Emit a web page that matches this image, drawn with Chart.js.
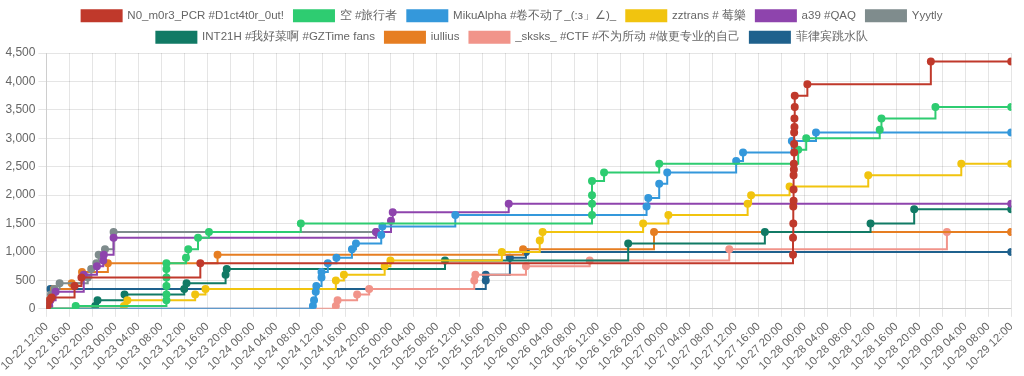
<!DOCTYPE html>
<html>
<head>
<meta charset="utf-8">
<script src="https://cdn.jsdelivr.net/npm/chart.js@4.4.0/dist/chart.umd.min.js"></script>
<style>
  body { margin: 0; background: #fff; }
  #wrap { width: 1024px; height: 376px; }
</style>
</head>
<body>
<div id="wrap"><canvas id="graph"></canvas></div>
<script>
// équipes + couleurs
const teamNames = [
  'N0_m0r3_PCR #D1ct4t0r_0ut!',
  '空 #旅行者',
  'MikuAlpha #卷不动了_(:з」∠)_',
  'zztrans # 莓樂',
  'a39 #QAQ',
  'Yyytly',
  'INT21H #我好菜啊 #GZTime fans',
  'iullius',
  '_sksks_ #CTF #不为所动 #做更专业的自己',
  '菲律宾跳水队'
];
const teamColors = ['#c0392b', '#2ecc71', '#3498db', '#f1c40f', '#8e44ad', '#7f8c8d', '#117a65', '#e67e22', '#f1948a', '#1f618d'];

// heures depuis le 10-22 12:00 / scores
const redHours = [0, 0.2, 0.5, 0.9, 4.9, 6.1, 26.8, 130.0, 130.0, 130.05, 130.05, 130.1, 130.1, 130.1, 130.15, 130.15, 130.2, 130.2, 130.2, 130.25, 130.25, 130.3, 130.3, 132.5, 154.0, 168];
const redScores = [0, 50, 150, 200, 400, 550, 800, 950, 1250, 1500, 1800, 1900, 2100, 2350, 2450, 2550, 2750, 2900, 3100, 3200, 3350, 3550, 3750, 3950, 4350, 4350];

const greenHours = [0, 5.1, 20.9, 20.9, 20.9, 20.9, 20.9, 20.9, 24.3, 24.7, 26.4, 28.3, 44.3, 95.0, 95.0, 95.0, 95.0, 97.1, 106.7, 130.9, 132.3, 145.1, 145.4, 154.8, 168];
const greenScores = [0, 50, 150, 250, 400, 550, 700, 800, 900, 1050, 1250, 1350, 1500, 1650, 1850, 2000, 2250, 2400, 2550, 2800, 3000, 3150, 3350, 3550, 3550];

const blueHours = [0, 46.4, 46.6, 46.9, 47.0, 47.9, 47.9, 49.0, 50.5, 53.2, 53.9, 58.3, 58.5, 71.2, 104.5, 104.8, 106.7, 108.1, 120.1, 121.3, 129.8, 134.0, 168];
const blueScores = [0, 50, 150, 300, 400, 550, 650, 800, 900, 1050, 1150, 1300, 1450, 1650, 1800, 1950, 2200, 2400, 2600, 2750, 2950, 3100, 3100];

const yellowHours = [0, 13.5, 14.1, 25.9, 27.7, 50.4, 51.8, 58.9, 59.9, 79.3, 85.9, 86.4, 103.9, 108.3, 122.1, 122.7, 129.4, 143.1, 159.3, 168];
const yellowScores = [0, 50, 150, 250, 350, 500, 600, 750, 850, 1000, 1200, 1350, 1500, 1650, 1850, 2000, 2150, 2350, 2550, 2550];

const purpleHours = [0, 0.5, 0.7, 1.6, 6.5, 8.8, 9.9, 10.0, 11.7, 57.4, 60.0, 60.3, 80.5, 168];
const purpleScores = [0, 50, 150, 300, 600, 750, 850, 950, 1250, 1350, 1550, 1700, 1850, 1850];

const grayHours = [0, 0.4, 0.8, 1.4, 2.3, 7.2, 7.8, 8.7, 9.1, 10.2, 11.7, 57.4];
const grayScores = [0, 100, 250, 350, 450, 550, 700, 800, 950, 1050, 1350, 1350];

const darkGreenHours = [0, 8.5, 8.9, 13.6, 24.0, 24.4, 31.2, 31.4, 69.4, 101.3, 125.1, 143.5, 151.1, 168];
const darkGreenScores = [0, 50, 150, 250, 350, 450, 600, 700, 850, 1150, 1350, 1500, 1750, 1750];

const orangeHours = [0, 0.5, 1.3, 4.4, 6.2, 10.7, 29.8, 83.0, 105.8, 168];
const orangeScores = [0, 150, 350, 450, 650, 800, 950, 1050, 1350, 1350];

const pinkHours = [0, 50.4, 50.7, 54.1, 56.2, 74.5, 74.7, 83.5, 94.6, 118.9, 156.8, 168];
const pinkScores = [0, 50, 150, 250, 350, 500, 600, 750, 850, 1050, 1350, 1350];

const navyHours = [0, 0.7, 76.5, 76.5, 80.7, 83.5, 168];
const navyScores = [0, 350, 500, 600, 900, 1000, 1000];

const allHours = [redHours, greenHours, blueHours, yellowHours, purpleHours, grayHours, darkGreenHours, orangeHours, pinkHours, navyHours];
const allScores = [redScores, greenScores, blueScores, yellowScores, purpleScores, grayScores, darkGreenScores, orangeScores, pinkScores, navyScores];

// graduations : toutes les 4h de 10-22 12:00 à 10-29 12:00
const tickStep = 4;
const startDay = 22;
const startHour = 12;

function pad(n) { return (n < 10 ? '0' : '') + n; }
function tickLabel(h) {
  const tot = startHour + h;
  const day = startDay + Math.floor(tot / 24);
  return '10-' + pad(day) + ' ' + pad(tot % 24) + ':00';
}

const datasets = [];
for (let i = 0; i < teamNames.length; i++) {
  const pts = [];
  for (let j = 0; j < allHours[i].length; j++) {
    pts.push({ x: allHours[i][j], y: allScores[i][j] });
  }
  datasets.push({
    label: teamNames[i],
    data: pts,
    borderColor: teamColors[i],
    backgroundColor: teamColors[i],
    pointBackgroundColor: teamColors[i],
    pointBorderColor: teamColors[i],
    pointRadius: 3,
    borderWidth: 2,
    stepped: true,
    fill: false
  });
}

const ctx = document.getElementById('graph').getContext('2d');
const graph = new Chart(ctx, {
  type: 'line',
  data: { datasets: datasets },
  options: {
    responsive: true,
    maintainAspectRatio: false,
    animation: false,
    plugins: {
      legend: {
        position: 'top',
        labels: { color: '#666', font: { size: 11.5 }, boxHeight: 11 }
      },
      tooltip: { enabled: false }
    },
    scales: {
      x: {
        type: 'linear',
        min: 0,
        max: 168,
        ticks: {
          stepSize: tickStep,
          autoSkip: false,
          maxRotation: 45,
          minRotation: 45,
          color: '#666',
          font: { size: 11.5 },
          callback: function (v) { return tickLabel(v); }
        }
      },
      y: {
        min: 0,
        max: 4500,
        ticks: { stepSize: 500, color: '#666', font: { size: 12 } }
      }
    }
  }
});
</script>
</body>
</html>
